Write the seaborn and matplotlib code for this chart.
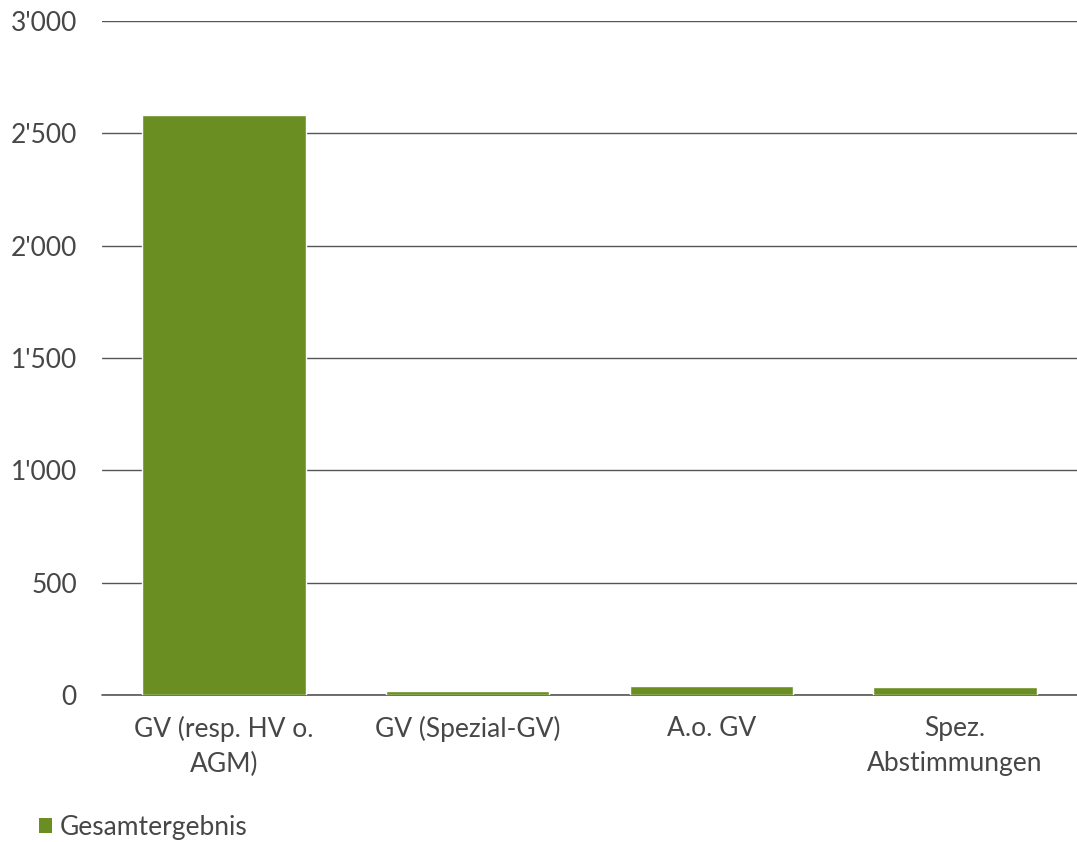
import matplotlib
matplotlib.use("Agg")
import matplotlib.pyplot as plt
import seaborn as sns
import pandas as pd
from matplotlib.ticker import FuncFormatter
from matplotlib.patches import Patch

categories = ["GV (resp. HV o.\nAGM)", "GV (Spezial-GV)", "A.o. GV", "Spez.\nAbstimmungen"]
values = [2582, 18, 41, 36]
series_name = "Gesamtergebnis"
yticks = [0, 500, 1000, 1500, 2000, 2500, 3000]

bar_color = "#6B8E23"
text_color = "#474747"
grid_color = "#555555"

sns.set_theme(style="white")
plt.rcParams["font.family"] = ["Lato", "DejaVu Sans"]

df = pd.DataFrame({"Kategorie": categories, "Wert": values})

fig = plt.figure(figsize=(10.77, 8.42), dpi=100)
ax = fig.add_axes([0.0947, 0.1746, 0.9053, 0.8004])

sns.barplot(data=df, x="Kategorie", y="Wert", color=bar_color, width=0.67,
            saturation=1, ax=ax, zorder=3)

ax.set_ylim(0, 3000)
ax.set_yticks(yticks)
ax.yaxis.set_major_formatter(FuncFormatter(lambda v, p: f"{int(v):,}".replace(",", "'")))
ax.grid(axis="y", color=grid_color, linewidth=1, zorder=0)
ax.axhline(0, color=grid_color, linewidth=1.2, zorder=2, clip_on=False)
ax.set_axisbelow(True)
for s in ax.spines.values():
    s.set_visible(False)
ax.set_xlabel("")
ax.set_ylabel("")
ax.tick_params(axis="both", length=0, labelsize=19, colors=text_color)
ax.tick_params(axis="y", pad=18)
ax.tick_params(axis="x", pad=15)
for lbl in ax.get_xticklabels():
    lbl.set_linespacing(1.5)

handle = Patch(facecolor=bar_color, edgecolor="none", label=series_name)
fig.legend(handles=[handle], loc="lower left", bbox_to_anchor=(0.014, -0.026),
           frameon=False, fontsize=19, handlelength=0.5, handleheight=0.5,
           handletextpad=0.3, labelcolor=text_color)

fig.savefig("out.png", dpi=100)
